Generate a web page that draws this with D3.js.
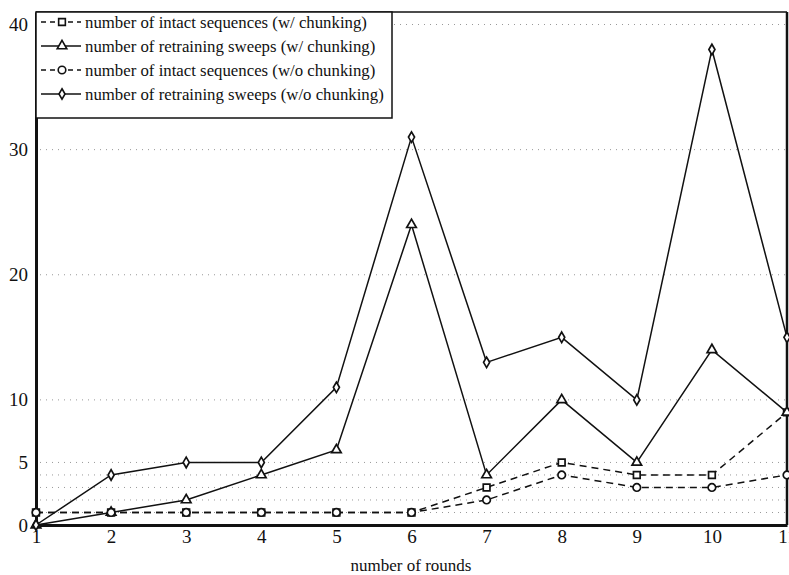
<html>
<head>
<script src="https://d3js.org/d3.v7.min.js"></script>
<style>
  body { margin: 0; background: #fff; }
  text { font-family: "Liberation Serif", "DejaVu Serif", serif; fill: #111; }
</style>
</head>
<body>
<div id="container"></div>
<script>
// rounds on the x axis
var rounds = [1, 2, 3, 4, 5, 6, 7, 8, 9, 10, 11];
// series values
var intactWith = [1, 1, 1, 1, 1, 1, 3, 5, 4, 4, 9];
var sweepsWith = [0, 1, 2, 4, 6, 24, 4, 10, 5, 14, 9];
var intactWithout = [1, 1, 1, 1, 1, 1, 2, 4, 3, 3, 4];
var sweepsWithout = [0, 4, 5, 5, 11, 31, 13, 15, 10, 38, 15];
var yTicks = [0, 5, 10, 20, 30, 40];
var gridValues = [1, 2, 3, 4, 5, 10, 20, 30, 40];
var seriesNames = [
  "number of intact sequences (w/ chunking)",
  "number of retraining sweeps (w/ chunking)",
  "number of intact sequences (w/o chunking)",
  "number of retraining sweeps (w/o chunking)"
];

var width = 789, height = 575;
// note: "top" is taken by window.top, so use plot* names
var plotLeft = 36, plotRight = 787, plotTop = 12, plotBottom = 525;

var svg = d3.select("#container").append("svg")
  .attr("width", width)
  .attr("height", height);

var x = d3.scaleLinear().domain([1, 11]).range([plotLeft, plotRight]);
var y = d3.scaleLinear().domain([0, 41]).range([plotBottom, plotTop]);

// dotted grid
svg.append("g").selectAll("line")
  .data(gridValues)
  .enter().append("line")
  .attr("x1", plotLeft + 4).attr("x2", plotRight - 2)
  .attr("y1", function(d) { return y(d); })
  .attr("y2", function(d) { return y(d); })
  .attr("stroke", "#999")
  .attr("stroke-width", 1)
  .attr("stroke-dasharray", "1,5");

// frame: thin top, thick right
svg.append("line").attr("x1", plotLeft).attr("x2", plotRight).attr("y1", plotTop).attr("y2", plotTop)
  .attr("stroke", "#111").attr("stroke-width", 1.5);
svg.append("line").attr("x1", plotRight).attr("x2", plotRight).attr("y1", plotTop).attr("y2", plotBottom)
  .attr("stroke", "#111").attr("stroke-width", 2.5);

// axes
var yAxis = svg.append("g")
  .attr("transform", "translate(" + plotLeft + ",0)")
  .call(d3.axisLeft(y).tickValues(yTicks).tickSize(0).tickPadding(8));
yAxis.select(".domain").attr("stroke", "#111").attr("stroke-width", 3);
yAxis.selectAll("text").style("font-size", "19px");

var xAxis = svg.append("g")
  .attr("transform", "translate(0," + plotBottom + ")")
  .call(d3.axisBottom(x).tickValues(rounds).tickFormat(d3.format("d")).tickSize(0).tickPadding(5));
xAxis.select(".domain").attr("stroke", "#111").attr("stroke-width", 3);
xAxis.selectAll("text").style("font-size", "19px");

svg.append("text")
  .attr("x", 411).attr("y", 571)
  .attr("text-anchor", "middle")
  .style("font-size", "17px")
  .text("number of rounds");

// series
var series = [
  { name: seriesNames[0], values: intactWith, dash: "7,5", marker: "square" },
  { name: seriesNames[1], values: sweepsWith, dash: null, marker: "triangle" },
  { name: seriesNames[2], values: intactWithout, dash: "7,5", marker: "circle" },
  { name: seriesNames[3], values: sweepsWithout, dash: null, marker: "diamond" }
];

var symbols = {
  square: d3.symbol().type(d3.symbolSquare).size(45),
  triangle: d3.symbol().type(d3.symbolTriangle).size(40),
  circle: d3.symbol().type(d3.symbolCircle).size(45),
  diamond: d3.symbol().type(d3.symbolDiamond).size(32)
};

var line = d3.line()
  .x(function(d, i) { return x(rounds[i]); })
  .y(function(d) { return y(d); });

series.forEach(function(s) {
  svg.append("path")
    .datum(s.values)
    .attr("d", line)
    .attr("fill", "none")
    .attr("stroke", "#111")
    .attr("stroke-width", 1.5)
    .attr("stroke-dasharray", s.dash);

  svg.append("g").selectAll("path")
    .data(s.values)
    .enter().append("path")
    .attr("d", symbols[s.marker])
    .attr("transform", function(d, i) { return "translate(" + x(rounds[i]) + "," + y(d) + ")"; })
    .attr("fill", "#fff")
    .attr("stroke", "#111")
    .attr("stroke-width", 1.7);
});

// legend
var legend = svg.append("g");
legend.append("rect")
  .attr("x", plotLeft).attr("y", plotTop)
  .attr("width", 356).attr("height", 106)
  .attr("fill", "#fff")
  .attr("stroke", "#111")
  .attr("stroke-width", 1.5);

series.forEach(function(s, i) {
  var ly = plotTop + 10 + i * 24;
  legend.append("line")
    .attr("x1", plotLeft + 5).attr("x2", plotLeft + 45)
    .attr("y1", ly).attr("y2", ly)
    .attr("stroke", "#111")
    .attr("stroke-width", 1.4)
    .attr("stroke-dasharray", s.dash ? "5,4" : null);
  legend.append("path")
    .attr("d", symbols[s.marker])
    .attr("transform", "translate(" + (plotLeft + 26) + "," + ly + ")")
    .attr("fill", "#fff")
    .attr("stroke", "#111")
    .attr("stroke-width", 1.6);
  legend.append("text")
    .attr("x", plotLeft + 49).attr("y", ly)
    .attr("dy", "0.35em")
    .style("font-size", "16.8px")
    .text(s.name);
});
</script>
</body>
</html>
